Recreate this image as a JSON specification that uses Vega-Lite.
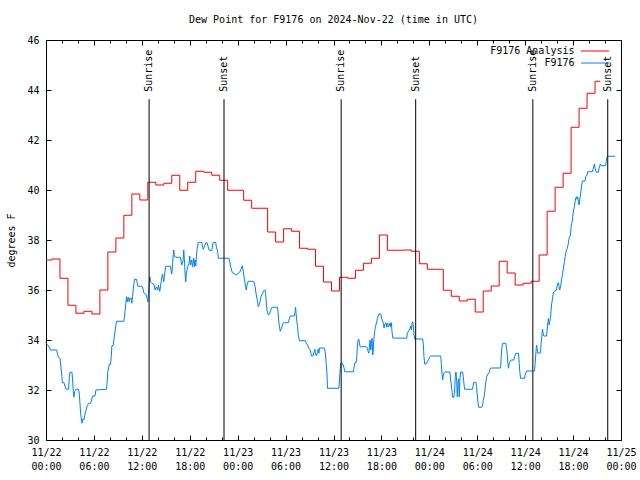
{
  "$schema": "https://vega.github.io/schema/vega-lite/v6.json",
  "width": 575,
  "height": 400,
  "autosize": {"type": "none"},
  "padding": {"left": 46, "top": 40, "right": 19, "bottom": 40},
  "background": "white",
  "title": {"text": "Dew Point for F9176 on 2024-Nov-22 (time in UTC)", "font": "DejaVu Sans Mono", "fontSize": 10, "fontWeight": "normal", "color": "black", "anchor": "middle", "frame": "group", "baseline": "middle", "offset": 5},
  "datasets": {
    "analysis": [
      {"series": "F9176 Analysis", "hour": 0, "dewpt": 37.2}, {"series": "F9176 Analysis", "hour": 0.75, "dewpt": 37.24}, {"series": "F9176 Analysis", "hour": 1.75, "dewpt": 36.47}, {"series": "F9176 Analysis", "hour": 2.75, "dewpt": 35.39},
      {"series": "F9176 Analysis", "hour": 3.75, "dewpt": 35.07}, {"series": "F9176 Analysis", "hour": 4.75, "dewpt": 35.15}, {"series": "F9176 Analysis", "hour": 5.75, "dewpt": 35.04}, {"series": "F9176 Analysis", "hour": 6.75, "dewpt": 36.0},
      {"series": "F9176 Analysis", "hour": 7.75, "dewpt": 37.52}, {"series": "F9176 Analysis", "hour": 8.75, "dewpt": 38.08}, {"series": "F9176 Analysis", "hour": 9.75, "dewpt": 38.99}, {"series": "F9176 Analysis", "hour": 10.75, "dewpt": 39.84},
      {"series": "F9176 Analysis", "hour": 11.75, "dewpt": 39.6}, {"series": "F9176 Analysis", "hour": 12.75, "dewpt": 40.31}, {"series": "F9176 Analysis", "hour": 13.75, "dewpt": 40.2}, {"series": "F9176 Analysis", "hour": 14.75, "dewpt": 40.27},
      {"series": "F9176 Analysis", "hour": 15.75, "dewpt": 40.59}, {"series": "F9176 Analysis", "hour": 16.75, "dewpt": 39.99}, {"series": "F9176 Analysis", "hour": 17.75, "dewpt": 40.31}, {"series": "F9176 Analysis", "hour": 18.75, "dewpt": 40.75},
      {"series": "F9176 Analysis", "hour": 19.75, "dewpt": 40.71}, {"series": "F9176 Analysis", "hour": 20.75, "dewpt": 40.59}, {"series": "F9176 Analysis", "hour": 21.75, "dewpt": 40.39}, {"series": "F9176 Analysis", "hour": 22.75, "dewpt": 39.99},
      {"series": "F9176 Analysis", "hour": 23.75, "dewpt": 39.99}, {"series": "F9176 Analysis", "hour": 24.75, "dewpt": 39.59}, {"series": "F9176 Analysis", "hour": 25.75, "dewpt": 39.27}, {"series": "F9176 Analysis", "hour": 26.75, "dewpt": 39.27},
      {"series": "F9176 Analysis", "hour": 27.75, "dewpt": 38.32}, {"series": "F9176 Analysis", "hour": 28.75, "dewpt": 37.92}, {"series": "F9176 Analysis", "hour": 29.75, "dewpt": 38.45}, {"series": "F9176 Analysis", "hour": 30.75, "dewpt": 38.35},
      {"series": "F9176 Analysis", "hour": 31.75, "dewpt": 37.67}, {"series": "F9176 Analysis", "hour": 32.75, "dewpt": 37.63}, {"series": "F9176 Analysis", "hour": 33.75, "dewpt": 36.95}, {"series": "F9176 Analysis", "hour": 34.75, "dewpt": 36.32},
      {"series": "F9176 Analysis", "hour": 35.75, "dewpt": 35.96}, {"series": "F9176 Analysis", "hour": 36.75, "dewpt": 36.51}, {"series": "F9176 Analysis", "hour": 37.75, "dewpt": 36.47}, {"series": "F9176 Analysis", "hour": 38.75, "dewpt": 36.79},
      {"series": "F9176 Analysis", "hour": 39.75, "dewpt": 37.07}, {"series": "F9176 Analysis", "hour": 40.75, "dewpt": 37.27}, {"series": "F9176 Analysis", "hour": 41.75, "dewpt": 38.2}, {"series": "F9176 Analysis", "hour": 42.75, "dewpt": 37.59},
      {"series": "F9176 Analysis", "hour": 43.75, "dewpt": 37.59}, {"series": "F9176 Analysis", "hour": 44.75, "dewpt": 37.6}, {"series": "F9176 Analysis", "hour": 45.75, "dewpt": 37.55}, {"series": "F9176 Analysis", "hour": 46.75, "dewpt": 37.05},
      {"series": "F9176 Analysis", "hour": 47.75, "dewpt": 36.83}, {"series": "F9176 Analysis", "hour": 48.75, "dewpt": 36.83}, {"series": "F9176 Analysis", "hour": 49.75, "dewpt": 35.99}, {"series": "F9176 Analysis", "hour": 50.75, "dewpt": 35.75},
      {"series": "F9176 Analysis", "hour": 51.75, "dewpt": 35.56}, {"series": "F9176 Analysis", "hour": 52.75, "dewpt": 35.63}, {"series": "F9176 Analysis", "hour": 53.75, "dewpt": 35.12}, {"series": "F9176 Analysis", "hour": 54.75, "dewpt": 35.96},
      {"series": "F9176 Analysis", "hour": 55.75, "dewpt": 36.16}, {"series": "F9176 Analysis", "hour": 56.75, "dewpt": 37.15}, {"series": "F9176 Analysis", "hour": 57.75, "dewpt": 36.68}, {"series": "F9176 Analysis", "hour": 58.75, "dewpt": 36.2},
      {"series": "F9176 Analysis", "hour": 59.75, "dewpt": 36.27}, {"series": "F9176 Analysis", "hour": 60.75, "dewpt": 36.35}, {"series": "F9176 Analysis", "hour": 61.75, "dewpt": 37.4}, {"series": "F9176 Analysis", "hour": 62.75, "dewpt": 39.15},
      {"series": "F9176 Analysis", "hour": 63.75, "dewpt": 40.11}, {"series": "F9176 Analysis", "hour": 64.75, "dewpt": 40.67}, {"series": "F9176 Analysis", "hour": 65.75, "dewpt": 42.51}, {"series": "F9176 Analysis", "hour": 66.75, "dewpt": 43.27},
      {"series": "F9176 Analysis", "hour": 67.75, "dewpt": 43.87}, {"series": "F9176 Analysis", "hour": 68.75, "dewpt": 44.35}, {"series": "F9176 Analysis", "hour": 69.4, "dewpt": 44.35}
    ],
    "observed": [
      {"series": "F9176", "hour": 0, "dewpt": 33.87}, {"series": "F9176", "hour": 0.33, "dewpt": 33.76}, {"series": "F9176", "hour": 0.58, "dewpt": 33.6}, {"series": "F9176", "hour": 1.33, "dewpt": 33.6},
      {"series": "F9176", "hour": 1.42, "dewpt": 33.47}, {"series": "F9176", "hour": 1.54, "dewpt": 33.31}, {"series": "F9176", "hour": 1.75, "dewpt": 33.27}, {"series": "F9176", "hour": 1.83, "dewpt": 33.04},
      {"series": "F9176", "hour": 2.0, "dewpt": 32.53}, {"series": "F9176", "hour": 2.04, "dewpt": 32.29}, {"series": "F9176", "hour": 2.25, "dewpt": 32.29}, {"series": "F9176", "hour": 2.33, "dewpt": 32.2},
      {"series": "F9176", "hour": 2.5, "dewpt": 32.03}, {"series": "F9176", "hour": 2.83, "dewpt": 32.03}, {"series": "F9176", "hour": 2.92, "dewpt": 32.51}, {"series": "F9176", "hour": 3.0, "dewpt": 32.71},
      {"series": "F9176", "hour": 3.25, "dewpt": 32.71}, {"series": "F9176", "hour": 3.33, "dewpt": 32.4}, {"series": "F9176", "hour": 3.42, "dewpt": 31.93}, {"series": "F9176", "hour": 3.5, "dewpt": 31.71},
      {"series": "F9176", "hour": 3.58, "dewpt": 31.93}, {"series": "F9176", "hour": 3.75, "dewpt": 32.03}, {"series": "F9176", "hour": 4.08, "dewpt": 32.03}, {"series": "F9176", "hour": 4.17, "dewpt": 31.84},
      {"series": "F9176", "hour": 4.25, "dewpt": 31.47}, {"series": "F9176", "hour": 4.33, "dewpt": 31.09}, {"series": "F9176", "hour": 4.5, "dewpt": 30.67}, {"series": "F9176", "hour": 4.58, "dewpt": 30.83},
      {"series": "F9176", "hour": 4.75, "dewpt": 30.8}, {"series": "F9176", "hour": 4.83, "dewpt": 30.97}, {"series": "F9176", "hour": 5.0, "dewpt": 31.17}, {"series": "F9176", "hour": 5.17, "dewpt": 31.37},
      {"series": "F9176", "hour": 5.33, "dewpt": 31.47}, {"series": "F9176", "hour": 5.58, "dewpt": 31.47}, {"series": "F9176", "hour": 5.67, "dewpt": 31.56}, {"series": "F9176", "hour": 5.83, "dewpt": 31.76},
      {"series": "F9176", "hour": 6.13, "dewpt": 31.76}, {"series": "F9176", "hour": 6.25, "dewpt": 32.0}, {"series": "F9176", "hour": 7.58, "dewpt": 32.03}, {"series": "F9176", "hour": 7.67, "dewpt": 32.4},
      {"series": "F9176", "hour": 7.75, "dewpt": 32.73}, {"series": "F9176", "hour": 7.92, "dewpt": 33.03}, {"series": "F9176", "hour": 8.08, "dewpt": 33.03}, {"series": "F9176", "hour": 8.17, "dewpt": 33.33},
      {"series": "F9176", "hour": 8.25, "dewpt": 33.76}, {"series": "F9176", "hour": 8.42, "dewpt": 33.8}, {"series": "F9176", "hour": 8.5, "dewpt": 34.0}, {"series": "F9176", "hour": 8.67, "dewpt": 34.4},
      {"series": "F9176", "hour": 8.83, "dewpt": 34.75}, {"series": "F9176", "hour": 9.75, "dewpt": 34.75}, {"series": "F9176", "hour": 9.83, "dewpt": 34.96}, {"series": "F9176", "hour": 10.0, "dewpt": 35.47},
      {"series": "F9176", "hour": 10.08, "dewpt": 35.73}, {"series": "F9176", "hour": 10.17, "dewpt": 35.53}, {"series": "F9176", "hour": 10.29, "dewpt": 35.71}, {"series": "F9176", "hour": 10.42, "dewpt": 35.53},
      {"series": "F9176", "hour": 10.5, "dewpt": 35.67}, {"series": "F9176", "hour": 10.67, "dewpt": 35.68}, {"series": "F9176", "hour": 10.75, "dewpt": 35.47}, {"series": "F9176", "hour": 10.83, "dewpt": 35.73},
      {"series": "F9176", "hour": 11.0, "dewpt": 36.23}, {"series": "F9176", "hour": 11.08, "dewpt": 36.43}, {"series": "F9176", "hour": 11.33, "dewpt": 36.43}, {"series": "F9176", "hour": 11.5, "dewpt": 36.15},
      {"series": "F9176", "hour": 12.0, "dewpt": 36.15}, {"series": "F9176", "hour": 12.08, "dewpt": 36.13}, {"series": "F9176", "hour": 12.25, "dewpt": 35.89}, {"series": "F9176", "hour": 12.5, "dewpt": 35.83},
      {"series": "F9176", "hour": 12.67, "dewpt": 35.67}, {"series": "F9176", "hour": 12.75, "dewpt": 35.53}, {"series": "F9176", "hour": 12.83, "dewpt": 35.87}, {"series": "F9176", "hour": 13.0, "dewpt": 36.53},
      {"series": "F9176", "hour": 13.08, "dewpt": 36.33}, {"series": "F9176", "hour": 13.25, "dewpt": 36.27}, {"series": "F9176", "hour": 13.5, "dewpt": 36.23}, {"series": "F9176", "hour": 13.67, "dewpt": 36.0},
      {"series": "F9176", "hour": 13.83, "dewpt": 36.13}, {"series": "F9176", "hour": 14.0, "dewpt": 36.0}, {"series": "F9176", "hour": 14.08, "dewpt": 36.19}, {"series": "F9176", "hour": 14.25, "dewpt": 35.95},
      {"series": "F9176", "hour": 14.42, "dewpt": 36.33}, {"series": "F9176", "hour": 14.58, "dewpt": 36.64}, {"series": "F9176", "hour": 14.67, "dewpt": 36.47}, {"series": "F9176", "hour": 14.75, "dewpt": 36.33},
      {"series": "F9176", "hour": 14.83, "dewpt": 36.6}, {"series": "F9176", "hour": 15.0, "dewpt": 36.95}, {"series": "F9176", "hour": 15.58, "dewpt": 36.95}, {"series": "F9176", "hour": 15.75, "dewpt": 36.64},
      {"series": "F9176", "hour": 15.83, "dewpt": 36.93}, {"series": "F9176", "hour": 15.92, "dewpt": 37.36}, {"series": "F9176", "hour": 16.0, "dewpt": 37.6}, {"series": "F9176", "hour": 16.08, "dewpt": 37.33},
      {"series": "F9176", "hour": 16.25, "dewpt": 37.31}, {"series": "F9176", "hour": 16.83, "dewpt": 37.31}, {"series": "F9176", "hour": 17.0, "dewpt": 37.0}, {"series": "F9176", "hour": 17.17, "dewpt": 37.2},
      {"series": "F9176", "hour": 17.25, "dewpt": 37.6}, {"series": "F9176", "hour": 17.33, "dewpt": 37.2}, {"series": "F9176", "hour": 17.42, "dewpt": 36.64}, {"series": "F9176", "hour": 17.5, "dewpt": 36.32},
      {"series": "F9176", "hour": 17.58, "dewpt": 36.67}, {"series": "F9176", "hour": 17.75, "dewpt": 36.93}, {"series": "F9176", "hour": 17.92, "dewpt": 37.07}, {"series": "F9176", "hour": 18.0, "dewpt": 37.36},
      {"series": "F9176", "hour": 18.08, "dewpt": 37.0}, {"series": "F9176", "hour": 18.25, "dewpt": 37.2}, {"series": "F9176", "hour": 18.33, "dewpt": 36.93}, {"series": "F9176", "hour": 18.42, "dewpt": 37.07},
      {"series": "F9176", "hour": 18.5, "dewpt": 37.27}, {"series": "F9176", "hour": 18.58, "dewpt": 36.93}, {"series": "F9176", "hour": 18.67, "dewpt": 37.2}, {"series": "F9176", "hour": 18.75, "dewpt": 36.96},
      {"series": "F9176", "hour": 18.83, "dewpt": 37.33}, {"series": "F9176", "hour": 18.92, "dewpt": 37.63}, {"series": "F9176", "hour": 19.08, "dewpt": 37.91}, {"series": "F9176", "hour": 19.5, "dewpt": 37.91},
      {"series": "F9176", "hour": 19.67, "dewpt": 37.63}, {"series": "F9176", "hour": 19.83, "dewpt": 37.73}, {"series": "F9176", "hour": 20.0, "dewpt": 37.89}, {"series": "F9176", "hour": 20.17, "dewpt": 37.89},
      {"series": "F9176", "hour": 20.42, "dewpt": 37.6}, {"series": "F9176", "hour": 20.75, "dewpt": 37.57}, {"series": "F9176", "hour": 20.92, "dewpt": 37.89}, {"series": "F9176", "hour": 21.25, "dewpt": 37.91},
      {"series": "F9176", "hour": 21.33, "dewpt": 37.73}, {"series": "F9176", "hour": 21.5, "dewpt": 37.53}, {"series": "F9176", "hour": 21.58, "dewpt": 37.27}, {"series": "F9176", "hour": 22.92, "dewpt": 37.27},
      {"series": "F9176", "hour": 23.0, "dewpt": 37.13}, {"series": "F9176", "hour": 23.17, "dewpt": 36.87}, {"series": "F9176", "hour": 23.33, "dewpt": 36.69}, {"series": "F9176", "hour": 23.67, "dewpt": 36.64},
      {"series": "F9176", "hour": 23.83, "dewpt": 36.6}, {"series": "F9176", "hour": 24.25, "dewpt": 36.71}, {"series": "F9176", "hour": 24.42, "dewpt": 36.83}, {"series": "F9176", "hour": 24.58, "dewpt": 36.97},
      {"series": "F9176", "hour": 24.67, "dewpt": 36.8}, {"series": "F9176", "hour": 24.83, "dewpt": 36.47}, {"series": "F9176", "hour": 25.0, "dewpt": 36.13}, {"series": "F9176", "hour": 25.08, "dewpt": 36.0},
      {"series": "F9176", "hour": 25.17, "dewpt": 36.2}, {"series": "F9176", "hour": 25.33, "dewpt": 36.35}, {"series": "F9176", "hour": 26.0, "dewpt": 36.35}, {"series": "F9176", "hour": 26.17, "dewpt": 36.16},
      {"series": "F9176", "hour": 26.33, "dewpt": 35.8}, {"series": "F9176", "hour": 26.5, "dewpt": 35.53}, {"series": "F9176", "hour": 26.58, "dewpt": 35.33}, {"series": "F9176", "hour": 26.67, "dewpt": 35.4},
      {"series": "F9176", "hour": 26.75, "dewpt": 35.47}, {"series": "F9176", "hour": 26.92, "dewpt": 35.73}, {"series": "F9176", "hour": 27.08, "dewpt": 35.84}, {"series": "F9176", "hour": 27.25, "dewpt": 35.97},
      {"series": "F9176", "hour": 27.42, "dewpt": 36.0}, {"series": "F9176", "hour": 27.5, "dewpt": 35.87}, {"series": "F9176", "hour": 27.58, "dewpt": 35.53}, {"series": "F9176", "hour": 27.67, "dewpt": 35.2},
      {"series": "F9176", "hour": 27.83, "dewpt": 35.0}, {"series": "F9176", "hour": 28.0, "dewpt": 35.04}, {"series": "F9176", "hour": 28.17, "dewpt": 35.23}, {"series": "F9176", "hour": 28.33, "dewpt": 35.31},
      {"series": "F9176", "hour": 29.0, "dewpt": 35.31}, {"series": "F9176", "hour": 29.17, "dewpt": 34.67}, {"series": "F9176", "hour": 29.25, "dewpt": 34.53}, {"series": "F9176", "hour": 29.33, "dewpt": 34.35},
      {"series": "F9176", "hour": 29.5, "dewpt": 34.47}, {"series": "F9176", "hour": 29.67, "dewpt": 34.67}, {"series": "F9176", "hour": 29.83, "dewpt": 34.69}, {"series": "F9176", "hour": 30.33, "dewpt": 34.69},
      {"series": "F9176", "hour": 30.5, "dewpt": 34.87}, {"series": "F9176", "hour": 30.58, "dewpt": 34.96}, {"series": "F9176", "hour": 31.08, "dewpt": 34.96}, {"series": "F9176", "hour": 31.17, "dewpt": 35.09},
      {"series": "F9176", "hour": 31.25, "dewpt": 35.31}, {"series": "F9176", "hour": 31.33, "dewpt": 35.0}, {"series": "F9176", "hour": 31.42, "dewpt": 34.73}, {"series": "F9176", "hour": 31.5, "dewpt": 34.53},
      {"series": "F9176", "hour": 31.58, "dewpt": 34.23}, {"series": "F9176", "hour": 31.67, "dewpt": 34.07}, {"series": "F9176", "hour": 31.75, "dewpt": 33.97}, {"series": "F9176", "hour": 32.5, "dewpt": 33.97},
      {"series": "F9176", "hour": 32.58, "dewpt": 33.87}, {"series": "F9176", "hour": 32.75, "dewpt": 33.8}, {"series": "F9176", "hour": 32.92, "dewpt": 33.67}, {"series": "F9176", "hour": 33.08, "dewpt": 33.6},
      {"series": "F9176", "hour": 33.17, "dewpt": 33.47}, {"series": "F9176", "hour": 33.25, "dewpt": 33.36}, {"series": "F9176", "hour": 33.42, "dewpt": 33.36}, {"series": "F9176", "hour": 33.58, "dewpt": 33.53},
      {"series": "F9176", "hour": 33.67, "dewpt": 33.63}, {"series": "F9176", "hour": 33.75, "dewpt": 33.49}, {"series": "F9176", "hour": 33.83, "dewpt": 33.37}, {"series": "F9176", "hour": 34.0, "dewpt": 33.49},
      {"series": "F9176", "hour": 34.08, "dewpt": 33.63}, {"series": "F9176", "hour": 34.17, "dewpt": 33.47}, {"series": "F9176", "hour": 34.25, "dewpt": 33.68}, {"series": "F9176", "hour": 34.83, "dewpt": 33.68},
      {"series": "F9176", "hour": 34.92, "dewpt": 33.6}, {"series": "F9176", "hour": 35.0, "dewpt": 33.44}, {"series": "F9176", "hour": 35.08, "dewpt": 33.07}, {"series": "F9176", "hour": 35.17, "dewpt": 32.73},
      {"series": "F9176", "hour": 35.25, "dewpt": 32.07}, {"series": "F9176", "hour": 36.67, "dewpt": 32.07}, {"series": "F9176", "hour": 36.75, "dewpt": 32.4}, {"series": "F9176", "hour": 36.83, "dewpt": 32.8},
      {"series": "F9176", "hour": 36.92, "dewpt": 33.07}, {"series": "F9176", "hour": 37.0, "dewpt": 33.09}, {"series": "F9176", "hour": 37.17, "dewpt": 33.04}, {"series": "F9176", "hour": 37.33, "dewpt": 32.87},
      {"series": "F9176", "hour": 37.42, "dewpt": 32.73}, {"series": "F9176", "hour": 38.5, "dewpt": 32.73}, {"series": "F9176", "hour": 38.58, "dewpt": 32.93}, {"series": "F9176", "hour": 38.67, "dewpt": 33.09},
      {"series": "F9176", "hour": 38.83, "dewpt": 33.09}, {"series": "F9176", "hour": 38.92, "dewpt": 33.33}, {"series": "F9176", "hour": 39.0, "dewpt": 33.8}, {"series": "F9176", "hour": 39.08, "dewpt": 34.0},
      {"series": "F9176", "hour": 39.17, "dewpt": 34.03}, {"series": "F9176", "hour": 39.25, "dewpt": 33.87}, {"series": "F9176", "hour": 39.33, "dewpt": 33.73}, {"series": "F9176", "hour": 40.08, "dewpt": 33.73},
      {"series": "F9176", "hour": 40.25, "dewpt": 33.67}, {"series": "F9176", "hour": 40.33, "dewpt": 33.53}, {"series": "F9176", "hour": 40.42, "dewpt": 33.47}, {"series": "F9176", "hour": 40.58, "dewpt": 34.0},
      {"series": "F9176", "hour": 40.67, "dewpt": 33.6}, {"series": "F9176", "hour": 40.75, "dewpt": 33.87}, {"series": "F9176", "hour": 40.83, "dewpt": 34.07}, {"series": "F9176", "hour": 40.92, "dewpt": 33.4},
      {"series": "F9176", "hour": 41.0, "dewpt": 33.73}, {"series": "F9176", "hour": 41.08, "dewpt": 34.13}, {"series": "F9176", "hour": 41.17, "dewpt": 34.36}, {"series": "F9176", "hour": 41.25, "dewpt": 34.53},
      {"series": "F9176", "hour": 41.42, "dewpt": 34.73}, {"series": "F9176", "hour": 41.5, "dewpt": 34.87}, {"series": "F9176", "hour": 41.67, "dewpt": 35.04}, {"series": "F9176", "hour": 41.92, "dewpt": 35.04},
      {"series": "F9176", "hour": 42.08, "dewpt": 34.8}, {"series": "F9176", "hour": 42.25, "dewpt": 34.67}, {"series": "F9176", "hour": 42.33, "dewpt": 34.48}, {"series": "F9176", "hour": 42.42, "dewpt": 34.64},
      {"series": "F9176", "hour": 42.58, "dewpt": 34.69}, {"series": "F9176", "hour": 42.67, "dewpt": 34.51}, {"series": "F9176", "hour": 42.75, "dewpt": 34.67}, {"series": "F9176", "hour": 42.92, "dewpt": 34.53},
      {"series": "F9176", "hour": 43.08, "dewpt": 34.69}, {"series": "F9176", "hour": 43.17, "dewpt": 34.53}, {"series": "F9176", "hour": 43.25, "dewpt": 34.69}, {"series": "F9176", "hour": 43.33, "dewpt": 34.33},
      {"series": "F9176", "hour": 43.42, "dewpt": 34.08}, {"series": "F9176", "hour": 45.17, "dewpt": 34.07}, {"series": "F9176", "hour": 45.25, "dewpt": 34.27}, {"series": "F9176", "hour": 45.42, "dewpt": 34.37},
      {"series": "F9176", "hour": 45.58, "dewpt": 34.47}, {"series": "F9176", "hour": 45.67, "dewpt": 34.56}, {"series": "F9176", "hour": 45.75, "dewpt": 34.4}, {"series": "F9176", "hour": 45.83, "dewpt": 34.67},
      {"series": "F9176", "hour": 45.92, "dewpt": 34.73}, {"series": "F9176", "hour": 46.0, "dewpt": 34.56}, {"series": "F9176", "hour": 46.08, "dewpt": 34.2}, {"series": "F9176", "hour": 46.17, "dewpt": 34.04},
      {"series": "F9176", "hour": 47.17, "dewpt": 34.04}, {"series": "F9176", "hour": 47.25, "dewpt": 33.8}, {"series": "F9176", "hour": 47.33, "dewpt": 33.33}, {"series": "F9176", "hour": 47.42, "dewpt": 33.04},
      {"series": "F9176", "hour": 47.58, "dewpt": 33.04}, {"series": "F9176", "hour": 47.75, "dewpt": 33.13}, {"series": "F9176", "hour": 47.92, "dewpt": 33.23}, {"series": "F9176", "hour": 48.08, "dewpt": 33.33},
      {"series": "F9176", "hour": 48.17, "dewpt": 33.36}, {"series": "F9176", "hour": 49.42, "dewpt": 33.36}, {"series": "F9176", "hour": 49.5, "dewpt": 33.07}, {"series": "F9176", "hour": 49.58, "dewpt": 32.67},
      {"series": "F9176", "hour": 49.67, "dewpt": 32.4}, {"series": "F9176", "hour": 49.75, "dewpt": 32.6}, {"series": "F9176", "hour": 49.83, "dewpt": 32.69}, {"series": "F9176", "hour": 49.92, "dewpt": 32.72},
      {"series": "F9176", "hour": 50.58, "dewpt": 32.72}, {"series": "F9176", "hour": 50.67, "dewpt": 32.4}, {"series": "F9176", "hour": 50.83, "dewpt": 32.0}, {"series": "F9176", "hour": 50.92, "dewpt": 31.71},
      {"series": "F9176", "hour": 51.08, "dewpt": 31.71}, {"series": "F9176", "hour": 51.17, "dewpt": 32.0}, {"series": "F9176", "hour": 51.25, "dewpt": 32.53}, {"series": "F9176", "hour": 51.33, "dewpt": 32.72},
      {"series": "F9176", "hour": 51.42, "dewpt": 32.4}, {"series": "F9176", "hour": 51.5, "dewpt": 31.73}, {"series": "F9176", "hour": 51.58, "dewpt": 32.27}, {"series": "F9176", "hour": 51.67, "dewpt": 32.45},
      {"series": "F9176", "hour": 51.75, "dewpt": 31.73}, {"series": "F9176", "hour": 51.83, "dewpt": 32.45}, {"series": "F9176", "hour": 51.92, "dewpt": 32.72}, {"series": "F9176", "hour": 52.17, "dewpt": 32.72},
      {"series": "F9176", "hour": 52.25, "dewpt": 32.53}, {"series": "F9176", "hour": 52.33, "dewpt": 32.27}, {"series": "F9176", "hour": 52.42, "dewpt": 32.03}, {"series": "F9176", "hour": 53.42, "dewpt": 32.03},
      {"series": "F9176", "hour": 53.5, "dewpt": 32.2}, {"series": "F9176", "hour": 53.58, "dewpt": 32.31}, {"series": "F9176", "hour": 53.83, "dewpt": 32.31}, {"series": "F9176", "hour": 53.92, "dewpt": 32.13},
      {"series": "F9176", "hour": 54.0, "dewpt": 31.8}, {"series": "F9176", "hour": 54.08, "dewpt": 31.53}, {"series": "F9176", "hour": 54.17, "dewpt": 31.31}, {"series": "F9176", "hour": 54.58, "dewpt": 31.31},
      {"series": "F9176", "hour": 54.67, "dewpt": 31.4}, {"series": "F9176", "hour": 54.75, "dewpt": 31.57}, {"series": "F9176", "hour": 54.92, "dewpt": 31.87}, {"series": "F9176", "hour": 55.0, "dewpt": 32.13},
      {"series": "F9176", "hour": 55.08, "dewpt": 32.33}, {"series": "F9176", "hour": 55.17, "dewpt": 32.53}, {"series": "F9176", "hour": 55.33, "dewpt": 32.64}, {"series": "F9176", "hour": 55.5, "dewpt": 32.69},
      {"series": "F9176", "hour": 55.58, "dewpt": 32.83}, {"series": "F9176", "hour": 55.75, "dewpt": 32.88}, {"series": "F9176", "hour": 56.92, "dewpt": 32.88}, {"series": "F9176", "hour": 57.0, "dewpt": 33.33},
      {"series": "F9176", "hour": 57.08, "dewpt": 33.67}, {"series": "F9176", "hour": 57.17, "dewpt": 33.87}, {"series": "F9176", "hour": 57.58, "dewpt": 33.87}, {"series": "F9176", "hour": 57.67, "dewpt": 33.67},
      {"series": "F9176", "hour": 57.75, "dewpt": 33.47}, {"series": "F9176", "hour": 57.83, "dewpt": 33.07}, {"series": "F9176", "hour": 57.92, "dewpt": 32.87}, {"series": "F9176", "hour": 58.0, "dewpt": 33.07},
      {"series": "F9176", "hour": 58.08, "dewpt": 33.13}, {"series": "F9176", "hour": 58.25, "dewpt": 33.2}, {"series": "F9176", "hour": 58.58, "dewpt": 33.2}, {"series": "F9176", "hour": 58.67, "dewpt": 33.33},
      {"series": "F9176", "hour": 58.83, "dewpt": 33.47}, {"series": "F9176", "hour": 59.17, "dewpt": 33.47}, {"series": "F9176", "hour": 59.25, "dewpt": 33.07}, {"series": "F9176", "hour": 59.33, "dewpt": 32.73},
      {"series": "F9176", "hour": 59.42, "dewpt": 32.47}, {"series": "F9176", "hour": 59.92, "dewpt": 32.47}, {"series": "F9176", "hour": 60.0, "dewpt": 32.6}, {"series": "F9176", "hour": 60.17, "dewpt": 32.76},
      {"series": "F9176", "hour": 61.17, "dewpt": 32.76}, {"series": "F9176", "hour": 61.25, "dewpt": 33.07}, {"series": "F9176", "hour": 61.33, "dewpt": 33.44}, {"series": "F9176", "hour": 61.42, "dewpt": 33.8},
      {"series": "F9176", "hour": 61.5, "dewpt": 33.67}, {"series": "F9176", "hour": 61.58, "dewpt": 33.47}, {"series": "F9176", "hour": 61.92, "dewpt": 33.49}, {"series": "F9176", "hour": 62.0, "dewpt": 33.87},
      {"series": "F9176", "hour": 62.08, "dewpt": 34.13}, {"series": "F9176", "hour": 62.17, "dewpt": 34.43}, {"series": "F9176", "hour": 62.25, "dewpt": 34.27}, {"series": "F9176", "hour": 62.33, "dewpt": 34.16},
      {"series": "F9176", "hour": 62.67, "dewpt": 34.16}, {"series": "F9176", "hour": 62.75, "dewpt": 34.4}, {"series": "F9176", "hour": 62.83, "dewpt": 34.67}, {"series": "F9176", "hour": 62.92, "dewpt": 34.87},
      {"series": "F9176", "hour": 63.0, "dewpt": 34.6}, {"series": "F9176", "hour": 63.08, "dewpt": 34.73}, {"series": "F9176", "hour": 63.17, "dewpt": 34.87}, {"series": "F9176", "hour": 63.25, "dewpt": 35.2},
      {"series": "F9176", "hour": 63.33, "dewpt": 35.47}, {"series": "F9176", "hour": 63.42, "dewpt": 35.63}, {"series": "F9176", "hour": 63.5, "dewpt": 35.84}, {"series": "F9176", "hour": 63.58, "dewpt": 35.93},
      {"series": "F9176", "hour": 63.92, "dewpt": 36.0}, {"series": "F9176", "hour": 64.0, "dewpt": 36.16}, {"series": "F9176", "hour": 64.08, "dewpt": 36.27}, {"series": "F9176", "hour": 64.17, "dewpt": 36.29},
      {"series": "F9176", "hour": 64.25, "dewpt": 36.13}, {"series": "F9176", "hour": 64.33, "dewpt": 36.0}, {"series": "F9176", "hour": 64.42, "dewpt": 36.13}, {"series": "F9176", "hour": 64.5, "dewpt": 36.27},
      {"series": "F9176", "hour": 64.58, "dewpt": 36.47}, {"series": "F9176", "hour": 64.67, "dewpt": 36.6}, {"series": "F9176", "hour": 64.75, "dewpt": 36.8}, {"series": "F9176", "hour": 64.83, "dewpt": 36.96},
      {"series": "F9176", "hour": 64.92, "dewpt": 37.13}, {"series": "F9176", "hour": 65.0, "dewpt": 37.33}, {"series": "F9176", "hour": 65.08, "dewpt": 37.47}, {"series": "F9176", "hour": 65.17, "dewpt": 37.6},
      {"series": "F9176", "hour": 65.25, "dewpt": 37.65}, {"series": "F9176", "hour": 65.33, "dewpt": 37.76}, {"series": "F9176", "hour": 65.42, "dewpt": 37.87}, {"series": "F9176", "hour": 65.5, "dewpt": 38.07},
      {"series": "F9176", "hour": 65.67, "dewpt": 38.2}, {"series": "F9176", "hour": 65.75, "dewpt": 38.53}, {"series": "F9176", "hour": 65.83, "dewpt": 38.67}, {"series": "F9176", "hour": 65.92, "dewpt": 38.8},
      {"series": "F9176", "hour": 66.0, "dewpt": 39.07}, {"series": "F9176", "hour": 66.08, "dewpt": 39.23}, {"series": "F9176", "hour": 66.17, "dewpt": 39.33}, {"series": "F9176", "hour": 66.25, "dewpt": 39.53},
      {"series": "F9176", "hour": 66.33, "dewpt": 39.67}, {"series": "F9176", "hour": 66.42, "dewpt": 39.73}, {"series": "F9176", "hour": 66.5, "dewpt": 39.63}, {"series": "F9176", "hour": 66.58, "dewpt": 39.73},
      {"series": "F9176", "hour": 66.67, "dewpt": 39.53}, {"series": "F9176", "hour": 66.75, "dewpt": 39.4}, {"series": "F9176", "hour": 66.83, "dewpt": 39.6}, {"series": "F9176", "hour": 66.92, "dewpt": 39.8},
      {"series": "F9176", "hour": 67.0, "dewpt": 40.0}, {"series": "F9176", "hour": 67.08, "dewpt": 40.2}, {"series": "F9176", "hour": 67.17, "dewpt": 40.36}, {"series": "F9176", "hour": 67.5, "dewpt": 40.36},
      {"series": "F9176", "hour": 67.58, "dewpt": 40.53}, {"series": "F9176", "hour": 67.75, "dewpt": 40.6}, {"series": "F9176", "hour": 67.83, "dewpt": 40.73}, {"series": "F9176", "hour": 68.42, "dewpt": 40.73},
      {"series": "F9176", "hour": 68.5, "dewpt": 40.83}, {"series": "F9176", "hour": 68.58, "dewpt": 40.93}, {"series": "F9176", "hour": 68.67, "dewpt": 41.04}, {"series": "F9176", "hour": 68.75, "dewpt": 40.87},
      {"series": "F9176", "hour": 68.83, "dewpt": 40.8}, {"series": "F9176", "hour": 68.92, "dewpt": 40.71}, {"series": "F9176", "hour": 69.17, "dewpt": 40.71}, {"series": "F9176", "hour": 69.25, "dewpt": 40.87},
      {"series": "F9176", "hour": 69.42, "dewpt": 41.04}, {"series": "F9176", "hour": 69.5, "dewpt": 40.97}, {"series": "F9176", "hour": 70.08, "dewpt": 40.97}, {"series": "F9176", "hour": 70.17, "dewpt": 41.2},
      {"series": "F9176", "hour": 70.25, "dewpt": 41.31}, {"series": "F9176", "hour": 70.33, "dewpt": 41.35}, {"series": "F9176", "hour": 71.25, "dewpt": 41.35}
    ],
    "events": [
      {"hour": 12.91, "event": "Sunrise"}, {"hour": 22.29, "event": "Sunset"},
      {"hour": 36.96, "event": "Sunrise"}, {"hour": 46.29, "event": "Sunset"},
      {"hour": 60.96, "event": "Sunrise"}, {"hour": 70.34, "event": "Sunset"}
    ]
  },
  "layer": [
    {
      "data": {"name": "analysis"},
      "mark": {"type": "line", "interpolate": "step-after", "strokeWidth": 1},
      "encoding": {
        "x": {"field": "hour", "type": "quantitative", "scale": {"domain": [0, 72], "nice": false, "zero": false},
          "axis": {"orient": "bottom", "values": [0, 6, 12, 18, 24, 30, 36, 42, 48, 54, 60, 66, 72], "ticks": false, "domain": false, "grid": false, "title": null, "labelPadding": 7, "labelBaseline": "top", "labelLineHeight": 14, "labelFlush": false, "labelOverlap": false,
            "labelExpr": "['11/' + (22 + floor(datum.value / 24)), (datum.value % 24 < 10 ? '0' : '') + (datum.value % 24) + ':00']"}},
        "y": {"field": "dewpt", "type": "quantitative", "scale": {"domain": [30, 46], "nice": false, "zero": false},
          "axis": {"orient": "left", "values": [30, 32, 34, 36, 38, 40, 42, 44, 46], "ticks": false, "domain": false, "grid": false, "labelPadding": 7, "title": "degrees F", "titlePadding": 10, "titleFontWeight": "normal"}},
        "color": {"field": "series", "type": "nominal",
          "scale": {"domain": ["F9176 Analysis", "F9176"], "range": ["#ff0000", "#0080ff"]},
          "legend": {"orient": "none", "legendX": 544, "legendY": 6, "padding": 0, "title": null, "symbolType": "M-5,0H5", "symbolSize": 31.4, "symbolStrokeWidth": 1, "labelAlign": "right", "labelOffset": -25.5, "rowPadding": 2,
            "encode": {"symbols": {"update": {"stroke": {"scale": "color", "field": "value"}, "fill": {"value": "transparent"}}}}}}
      }
    },
    {
      "data": {"name": "observed"},
      "mark": {"type": "line", "strokeWidth": 1},
      "encoding": {
        "x": {"field": "hour", "type": "quantitative",
          "axis": {"orient": "bottom", "values": [0, 2, 4, 6, 8, 10, 12, 14, 16, 18, 20, 22, 24, 26, 28, 30, 32, 34, 36, 38, 40, 42, 44, 46, 48, 50, 52, 54, 56, 58, 60, 62, 64, 66, 68, 70, 72], "labels": false, "domain": false, "grid": false, "title": null,
            "tickSize": {"condition": {"test": "datum.value % 6 === 0", "value": -5}, "value": -3}}},
        "y": {"field": "dewpt", "type": "quantitative",
          "axis": {"orient": "left", "values": [30, 32, 34, 36, 38, 40, 42, 44, 46], "labels": false, "domain": false, "grid": false, "title": null, "tickSize": -5}},
        "color": {"field": "series", "type": "nominal"}
      }
    },
    {
      "data": {"name": "events"},
      "mark": {"type": "rule", "color": "black", "strokeWidth": 1},
      "encoding": {
        "x": {"field": "hour", "type": "quantitative",
          "axis": {"orient": "top", "values": [0, 2, 4, 6, 8, 10, 12, 14, 16, 18, 20, 22, 24, 26, 28, 30, 32, 34, 36, 38, 40, 42, 44, 46, 48, 50, 52, 54, 56, 58, 60, 62, 64, 66, 68, 70, 72], "labels": false, "domain": false, "grid": false, "title": null,
            "tickSize": {"condition": {"test": "datum.value % 6 === 0", "value": -5}, "value": -3}}},
        "y": {"datum": 30, "type": "quantitative",
          "axis": {"orient": "right", "values": [30, 32, 34, 36, 38, 40, 42, 44, 46], "labels": false, "domain": false, "grid": false, "title": null, "tickSize": -5}},
        "y2": {"datum": 43.63}
      }
    },
    {
      "data": {"name": "events"},
      "mark": {"type": "text", "angle": 270, "align": "left", "baseline": "middle", "font": "DejaVu Sans Mono", "fontSize": 10, "color": "black"},
      "encoding": {
        "x": {"field": "hour", "type": "quantitative", "axis": null},
        "y": {"datum": 43.93, "type": "quantitative", "axis": null},
        "text": {"field": "event"}
      }
    }
  ],
  "resolve": {"axis": {"x": "independent", "y": "independent"}, "scale": {"x": "shared", "y": "shared", "color": "shared"}},
  "config": {
    "font": "DejaVu Sans Mono",
    "view": {"stroke": "black", "strokeWidth": 1},
    "axis": {"labelFont": "DejaVu Sans Mono", "labelFontSize": 10, "labelColor": "black", "titleFont": "DejaVu Sans Mono", "titleFontSize": 10, "titleColor": "black", "tickColor": "black", "tickWidth": 1},
    "legend": {"labelFont": "DejaVu Sans Mono", "labelFontSize": 10, "labelColor": "black"}
  }
}
